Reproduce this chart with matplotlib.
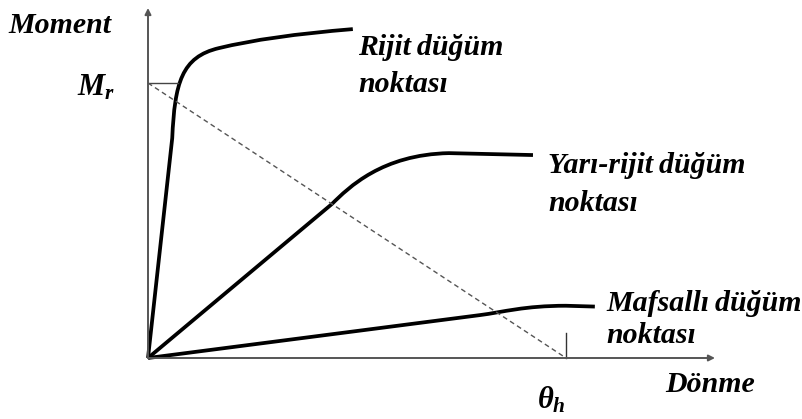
import matplotlib
matplotlib.use("Agg")
import matplotlib.pyplot as plt
from matplotlib.path import Path
from matplotlib.patches import PathPatch

plt.rcParams['font.family'] = ['Liberation Serif', 'DejaVu Serif']
plt.rcParams['mathtext.fontset'] = 'custom'
plt.rcParams['mathtext.it'] = 'Liberation Serif:bold:italic'
plt.rcParams['mathtext.rm'] = 'Liberation Serif:bold'

# rotation in units of theta_h, moment in units of M_r
# rigid joint: straight rise, then a cubic and a quadratic bend
rigid_x = [0.0, 0.058, 0.064, 0.080, 0.170, 0.287, 0.490]
rigid_y = [0.0, 0.800, 1.000, 1.095, 1.127, 1.171, 1.196]
rigid_codes = [Path.MOVETO, Path.LINETO, Path.CURVE4, Path.CURVE4, Path.CURVE4,
               Path.CURVE3, Path.CURVE3]

semi_x = [0.0, 0.44, 0.48, 0.56, 0.72, 0.921]
semi_y = [0.0, 0.56, 0.62, 0.74, 0.745, 0.738]
semi_codes = [Path.MOVETO, Path.LINETO, Path.CURVE4, Path.CURVE4, Path.CURVE4,
              Path.LINETO]

pinned_x = [0.0, 0.794, 0.85, 0.90, 1.00, 1.069]
pinned_y = [0.0, 0.156, 0.167, 0.19, 0.19, 0.187]
pinned_codes = semi_codes

# beam line from M_r to theta_h
beam_x = [0.0, 1.0]
beam_y = [1.0, 0.0]

W, H = 803, 419
ox, oy = 148, 358      # origin in pixels
sx, sy = 418, 275      # pixels per unit

fig = plt.figure(figsize=(W / 100, H / 100), dpi=100)
ax = fig.add_axes([0, 0, 1, 1])
ax.set_xlim(-ox / sx, (W - ox) / sx)
ax.set_ylim(-(H - oy) / sy, oy / sy)
ax.axis('off')

axis_col = '#555555'
arrow = dict(arrowstyle='-|>', color=axis_col, lw=1.4, mutation_scale=9,
             shrinkA=0, shrinkB=0)
ax.annotate('', xy=((715 - ox) / sx, 0), xytext=(0, 0), arrowprops=arrow)
ax.annotate('', xy=(0, (oy - 8) / sy), xytext=(0, 0), arrowprops=arrow)

# M_r level and theta_h tick
ax.plot([0, rigid_x[2] + 0.008], [1, 1], color='#444444', lw=1.0)
ax.plot([1, 1], [0, 0.091], color='#333333', lw=1.0)
ax.plot(beam_x, beam_y, color='#555555', lw=1.0, dashes=(3.5, 2.5))

for xs, ys, codes in [(rigid_x, rigid_y, rigid_codes),
                      (semi_x, semi_y, semi_codes),
                      (pinned_x, pinned_y, pinned_codes)]:
    p = Path(list(zip(xs, ys)), codes)
    ax.add_patch(PathPatch(p, facecolor='none', edgecolor='black', lw=2.7,
                           capstyle='butt', joinstyle='round'))

tk = dict(fontsize=21.5, fontweight='bold', fontstyle='italic', va='baseline',
          ha='left', color='black')


def put(x, y, s, **kw):
    d = dict(tk)
    d.update(kw)
    fig.text(x / W, 1 - y / H, s, **d)


put(8, 33, 'Moment')
put(77, 95, r'$M_r$', fontsize=22)
put(537, 408, r'$\theta_h$', fontsize=22)
put(358, 55, 'Rijit\u2009düğüm')
put(358, 92, 'noktası')
put(548, 173, 'Yarı-rijit\u2009düğüm')
put(548, 211, 'noktası')
put(606, 311, 'Mafsallı\u2009düğüm')
put(606, 343, 'noktası')
put(665, 392, 'Dönme')

fig.savefig('out.png', dpi=100)
